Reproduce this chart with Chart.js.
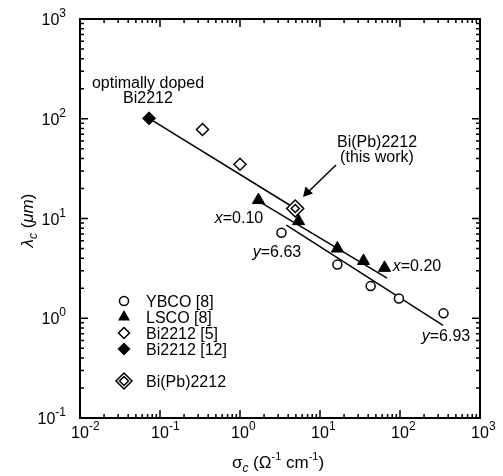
<!DOCTYPE html>
<html>
<head>
<meta charset="utf-8">
<script src="https://cdn.jsdelivr.net/npm/chart.js@4.4.0/dist/chart.umd.min.js"></script>
<style>
  body { margin: 0; background: #fff; }
  #wrap { width: 503px; height: 476px; }
</style>
</head>
<body>
<div id="wrap"><canvas id="myChart" width="503" height="476"></canvas></div>
<script>
// values (sigma_c in 1/(Ohm cm), lambda_c in um)
const ybcoX = [3.3, 16.5, 43, 97, 350];
const ybcoY = [7.2, 3.45, 2.1, 1.58, 1.12];
const lscoX = [1.7, 5.4, 16.5, 35, 64];
const lscoY = [15.3, 9.4, 5.0, 3.75, 3.2];
const bi5X = [0.34, 1.0];
const bi5Y = [78, 35];
const bi12X = [0.073];
const bi12Y = [101];
const bipbX = [4.9];
const bipbY = [12.6];

// fitted lines (end points)
const fitBiX = [0.073, 4.9];
const fitBiY = [101, 12.6];
const fitLscoX = [1.62, 69];
const fitLscoY = [15.3, 2.52];
const fitYbcoX = [3.8, 345];
const fitYbcoY = [8.6, 0.85];

const xTickExps = [-2, -1, 0, 1, 2, 3];
const yTickExps = [-1, 0, 1, 2, 3];

const legendNames = ['YBCO [8]', 'LSCO [8]', 'Bi2212 [5]', 'Bi2212 [12]', 'Bi(Pb)2212'];

function pts(xs, ys) {
    const out = [];
    for (let i = 0; i < xs.length; i++) out.push({x: xs[i], y: ys[i]});
    return out;
}

const FONT = '"Liberation Sans", Arial, Helvetica, sans-serif';

function lineSet(xs, ys) {
    return {
        data: pts(xs, ys), showLine: true, pointRadius: 0,
        borderColor: '#000', borderWidth: 1.5, fill: false
    };
}

// draws a run of text pieces: [text, size, italic, dy]
function rich(ctx, parts, x, y, align) {
    let w = 0;
    for (const p of parts) {
        ctx.font = (p[2] ? 'italic ' : '') + p[1] + 'px ' + FONT;
        w += ctx.measureText(p[0]).width;
    }
    let cx = align == 'center' ? x - w / 2 : (align == 'right' ? x - w : x);
    ctx.textAlign = 'left';
    ctx.textBaseline = 'alphabetic';
    for (const p of parts) {
        ctx.font = (p[2] ? 'italic ' : '') + p[1] + 'px ' + FONT;
        ctx.fillText(p[0], cx, y + (p[3] || 0));
        cx += ctx.measureText(p[0]).width;
    }
}

function marker(ctx, kind, x, y) {
    ctx.save();
    ctx.lineWidth = 1.5;
    ctx.strokeStyle = '#000';
    ctx.fillStyle = '#000';
    ctx.beginPath();
    if (kind == 'circle') {
        ctx.arc(x, y, 4.5, 0, Math.PI * 2);
        ctx.stroke();
    } else if (kind == 'tri') {
        const r = 7;
        ctx.moveTo(x, y - r);
        ctx.lineTo(x + r * 0.866, y + r / 2);
        ctx.lineTo(x - r * 0.866, y + r / 2);
        ctx.closePath();
        ctx.fill();
    } else {
        const rs = kind == 'dbl' ? [8, 4.5] : [kind == 'fdia' ? 6.5 : 5.5];
        for (const r of rs) {
            ctx.beginPath();
            ctx.moveTo(x, y - r); ctx.lineTo(x + r, y); ctx.lineTo(x, y + r); ctx.lineTo(x - r, y);
            ctx.closePath();
            if (kind == 'fdia') ctx.fill(); else ctx.stroke();
        }
    }
    ctx.restore();
}

const framePlugin = {
    id: 'frame',
    afterDraw(chart) {
        const ctx = chart.ctx;
        const a = chart.chartArea;
        const xs = chart.scales.x, ys = chart.scales.y;
        ctx.save();
        ctx.strokeStyle = '#000';
        ctx.fillStyle = '#000';

        // inward ticks on all four sides
        ctx.lineWidth = 1.5;
        ctx.beginPath();
        for (let e = -2; e <= 3; e++) {
            for (let m = 1; m <= 9; m++) {
                const v = m * Math.pow(10, e);
                if (v < 0.01 || v > 1000) continue;
                const px = xs.getPixelForValue(v);
                const len = m == 1 ? 8 : 4;
                ctx.moveTo(px, a.bottom); ctx.lineTo(px, a.bottom - len);
                ctx.moveTo(px, a.top); ctx.lineTo(px, a.top + len);
            }
        }
        for (let e = -1; e <= 3; e++) {
            for (let m = 1; m <= 9; m++) {
                const v = m * Math.pow(10, e);
                if (v < 0.1 || v > 1000) continue;
                const py = ys.getPixelForValue(v);
                const len = m == 1 ? 8 : 4;
                ctx.moveTo(a.left, py); ctx.lineTo(a.left + len, py);
                ctx.moveTo(a.right, py); ctx.lineTo(a.right - len, py);
            }
        }
        ctx.stroke();

        ctx.lineWidth = 2;
        ctx.strokeRect(a.left, a.top, a.right - a.left, a.bottom - a.top);

        // tick labels 10^n
        for (const e of xTickExps) {
            const px = xs.getPixelForValue(Math.pow(10, e));
            ctx.font = '16px ' + FONT;
            const w = ctx.measureText('10').width;
            rich(ctx, [['10', 16], [String(e), 12, false, -8]], px - w / 2, a.bottom + 20, 'left');
        }
        for (const e of yTickExps) {
            const py = ys.getPixelForValue(Math.pow(10, e));
            rich(ctx, [['10', 16], [String(e), 12, false, -8]], a.left - 14, py + 6, 'right');
        }

        // axis titles
        rich(ctx, [['σ', 17], ['c', 12, true, 4], [' (Ω', 17], ['-1', 11, false, -8], [' cm', 17], ['-1', 11, false, -8], [')', 17]],
            (a.left + a.right) / 2 - 2, 468, 'center');
        ctx.save();
        ctx.translate(33, (a.top + a.bottom) / 2 + 2);
        ctx.rotate(-Math.PI / 2);
        rich(ctx, [['λ', 17, true], ['c', 12, true, 4], [' (', 17], ['μm', 17, true], [')', 17]], 0, 0, 'center');
        ctx.restore();

        // annotations
        rich(ctx, [['optimally doped', 16]], 148, 88, 'center');
        rich(ctx, [['Bi2212', 16]], 148, 103, 'center');
        rich(ctx, [['Bi(Pb)2212', 16]], 377, 147, 'center');
        rich(ctx, [['(this work)', 16]], 377, 162, 'center');
        rich(ctx, [['x', 16, true], ['=0.10', 16]], 239, 223, 'center');
        rich(ctx, [['y', 16, true], ['=6.63', 16]], 277, 257, 'center');
        rich(ctx, [['x', 16, true], ['=0.20', 16]], 417, 271, 'center');
        rich(ctx, [['y', 16, true], ['=6.93', 16]], 446, 341, 'center');

        // arrow to this work
        ctx.lineWidth = 1.5;
        ctx.beginPath();
        ctx.moveTo(336, 165); ctx.lineTo(305, 195);
        ctx.stroke();
        ctx.beginPath();
        ctx.moveTo(303, 197); ctx.lineTo(305.5, 186.5); ctx.lineTo(313, 193.5);
        ctx.closePath();
        ctx.fill();

        // legend
        const kinds = ['circle', 'tri', 'odia', 'fdia', 'dbl'];
        const rows = [301, 317, 333, 349, 381];
        for (let i = 0; i < legendNames.length; i++) {
            marker(ctx, kinds[i], 124, rows[i]);
            rich(ctx, [[legendNames[i], 16]], 146, rows[i] + 6, 'left');
        }
        ctx.restore();
    }
};

const ctx = document.getElementById('myChart');
new Chart(ctx, {
    type: 'scatter',
    data: {
        datasets: [
            {
                data: pts(bipbX, bipbY), pointStyle: 'rectRot', pointRadius: 4,
                pointBackgroundColor: 'rgba(0,0,0,0)', pointBorderColor: '#000', pointBorderWidth: 1.5
            },
            {
                data: pts(bipbX, bipbY), pointStyle: 'rectRot', pointRadius: 8.5,
                pointBackgroundColor: '#fff', pointBorderColor: '#000', pointBorderWidth: 1.5
            },
            {
                data: pts(ybcoX, ybcoY), pointStyle: 'circle', pointRadius: 4.5,
                pointBackgroundColor: '#fff', pointBorderColor: '#000', pointBorderWidth: 1.5
            },
            {
                data: pts(lscoX, lscoY), pointStyle: 'triangle', pointRadius: 7,
                pointBackgroundColor: '#000', pointBorderColor: '#000', pointBorderWidth: 1
            },
            {
                data: pts(bi5X, bi5Y), pointStyle: 'rectRot', pointRadius: 6,
                pointBackgroundColor: '#fff', pointBorderColor: '#000', pointBorderWidth: 1.5
            },
            {
                data: pts(bi12X, bi12Y), pointStyle: 'rectRot', pointRadius: 6.5,
                pointBackgroundColor: '#000', pointBorderColor: '#000', pointBorderWidth: 1
            },
            lineSet(fitBiX, fitBiY),
            lineSet(fitLscoX, fitLscoY),
            lineSet(fitYbcoX, fitYbcoY)
        ]
    },
    options: {
        responsive: false,
        animation: false,
        layout: { padding: { left: 80, right: 23, top: 19, bottom: 58 } },
        plugins: { legend: { display: false }, tooltip: { enabled: false } },
        scales: {
            x: {
                type: 'logarithmic', min: 0.01, max: 1000,
                ticks: { display: false }, grid: { display: false }, border: { display: false },
                afterFit: (scale) => { scale.height = 0; }
            },
            y: {
                type: 'logarithmic', min: 0.1, max: 1000,
                ticks: { display: false }, grid: { display: false }, border: { display: false },
                afterFit: (scale) => { scale.width = 0; }
            }
        }
    },
    plugins: [framePlugin]
});
</script>
</body>
</html>
